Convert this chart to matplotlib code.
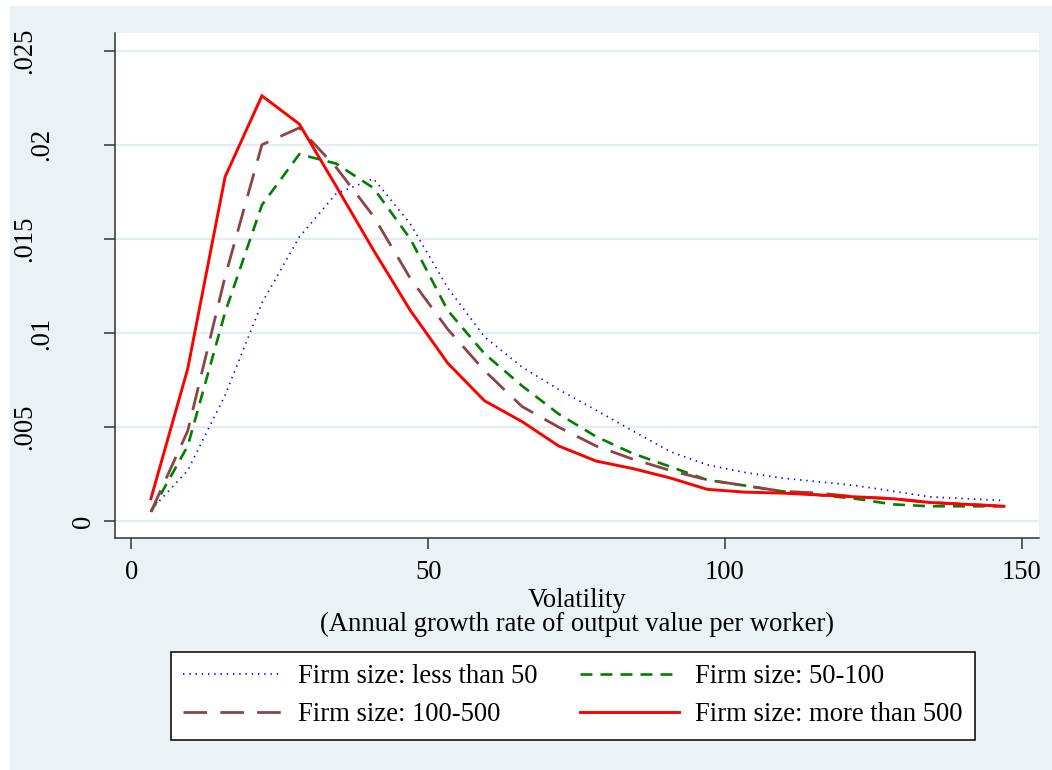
import matplotlib
matplotlib.use("Agg")
import matplotlib.pyplot as plt
from matplotlib.patches import Rectangle

plt.rcParams['font.family'] = ['Liberation Serif', 'DejaVu Serif']
plt.rcParams['lines.scale_dashes'] = False

# ---- data ----
volatility = [3.3, 9.5, 15.8, 22.0, 28.3, 34.5, 40.8, 47.0, 53.3, 59.5, 65.8, 72.0,
              78.3, 84.5, 90.8, 97.0, 103.3, 109.5, 115.8, 122.0, 128.3, 134.5, 140.8, 147.0]

dens_lt50 = [0.0006, 0.0027, 0.0067, 0.0116, 0.0151, 0.0174, 0.0182, 0.0158, 0.0124, 0.0098,
             0.0082, 0.0070, 0.0059, 0.0048, 0.0037, 0.0030, 0.0026, 0.0023, 0.0021, 0.0019,
             0.0016, 0.0013, 0.0012, 0.0011]
dens_50_100 = [0.0005, 0.0040, 0.0111, 0.0168, 0.0195, 0.0190, 0.0177, 0.0150, 0.0112, 0.0089,
               0.0072, 0.0057, 0.0045, 0.0036, 0.0029, 0.0022, 0.0019, 0.0016, 0.0014, 0.0012,
               0.0009, 0.0008, 0.0008, 0.0008]
dens_100_500 = [0.0005, 0.0048, 0.0130, 0.0200, 0.0209, 0.0188, 0.0162, 0.0129, 0.0102, 0.0080,
                0.0061, 0.0050, 0.0040, 0.0033, 0.0027, 0.0022, 0.0019, 0.0016, 0.0015, 0.0013,
                0.0012, 0.0010, 0.0009, 0.0008]
dens_gt500 = [0.0012, 0.0081, 0.0183, 0.0226, 0.0211, 0.0178, 0.0144, 0.0112, 0.0084, 0.0064,
              0.0053, 0.0040, 0.0032, 0.0028, 0.0023, 0.0017, 0.00155, 0.0015, 0.0014, 0.0013,
              0.0012, 0.0010, 0.0009, 0.0008]

series_labels = ["Firm size: less than 50", "Firm size: 50-100",
                 "Firm size: 100-500", "Firm size: more than 500"]
x_ticks = [0, 50, 100, 150]
y_ticks = [0, 0.005, 0.01, 0.015, 0.02, 0.025]
y_tick_labels = ["0", ".005", ".01", ".015", ".02", ".025"]
x_title = "Volatility\n(Annual growth rate of output value per worker)"

# ---- style ----
BG = '#EAF2F3'
GRID = '#E3ECEE'
AX = '#333333'
FS = 19.2

W, H = 1052, 770
fig = plt.figure(figsize=(W / 100, H / 100), dpi=100, facecolor='white')
fig.add_artist(Rectangle((10 / W, 0), 1 - 10 / W, 1 - 6 / H, transform=fig.transFigure,
                         facecolor=BG, edgecolor='none', zorder=0))

ax = fig.add_axes([114.7 / W, 1 - 537.7 / H, (1039 - 114.7) / W, (537.7 - 33.3) / H])
ax.set_facecolor('white')

styles = [
    dict(color='#0000FF', lw=1.25, dashes=(1.0, 3.5)),
    dict(color='#008000', lw=1.9, dashes=(8.6, 5.8)),
    dict(color='#8B4545', lw=2.0, dashes=(17.0, 9.5)),
    dict(color='#FF0000', lw=2.1, linestyle='-'),
]
all_series = [dens_lt50, dens_50_100, dens_100_500, dens_gt500]
handles = []
for ys, lab, st in zip(all_series, series_labels, styles):
    ln, = ax.plot(volatility, ys, label=lab, solid_joinstyle='miter', **st)
    handles.append(ln)

ax.set_xlim(-2.8, 152.9)
ax.set_ylim(-0.00087, 0.02592)
ax.set_xticks(x_ticks)
ax.set_yticks(y_ticks)
ax.set_xticklabels([str(t) for t in x_ticks], fontsize=FS)
ax.tick_params(axis='y', labelleft=False)
ax.tick_params(direction='out', length=7.9, width=1.1, color=AX, pad=8)
ax.yaxis.grid(True, color=GRID, lw=1.6)
ax.set_axisbelow(True)
for s in ['top', 'right']:
    ax.spines[s].set_visible(False)
for s in ['left', 'bottom']:
    ax.spines[s].set_color(AX)
    ax.spines[s].set_linewidth(1.1)

# rotated y tick labels (positioned like the reference)
axw = (1039 - 114.7)
offsets = {4: 90, 3: 73, 1: 31}
for yv, lab in zip(y_ticks, y_tick_labels):
    d = offsets[len(lab)]
    ax.text(-d / axw, yv, lab, transform=ax.get_yaxis_transform(), rotation=90,
            ha='center', va='center', fontsize=FS, clip_on=False)

ax.set_xlabel(x_title, fontsize=FS, linespacing=0.95, labelpad=2)

order = [0, 2, 1, 3]
leg = fig.legend([handles[i] for i in order], [series_labels[i] for i in order],
                 ncol=2, loc='upper left', bbox_to_anchor=(170.7 / W, 1 - 651.7 / H),
                 bbox_transform=fig.transFigure, borderaxespad=0, fontsize=FS,
                 frameon=True, fancybox=False, framealpha=1, edgecolor='black',
                 borderpad=0.47, handlelength=3.7, handletextpad=0.6,
                 columnspacing=1.6, labelspacing=0.49)
leg.get_frame().set_linewidth(1.1)

fig.savefig('out.png', dpi=100, facecolor=fig.get_facecolor())
